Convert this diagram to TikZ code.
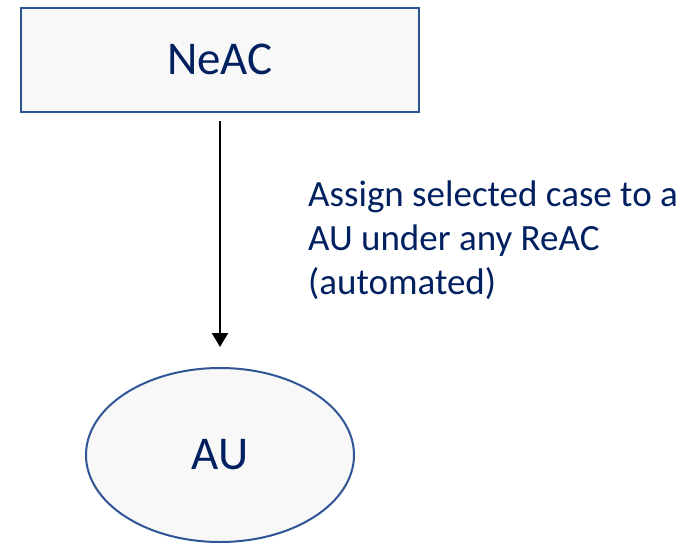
\documentclass[tikz,border=0pt]{standalone}
\usepackage{fontspec}
\setmainfont{Carlito}
\usetikzlibrary{shapes.geometric,arrows.meta}
\definecolor{navy}{HTML}{002060}
\definecolor{edge}{HTML}{2F5597}
\definecolor{fillg}{HTML}{F8F8F8}
\tikzset{
  shapebox/.style={draw=edge, line width=2pt, fill=fillg, text=navy},
  bigtext/.style={font=\fontsize{47}{50}\selectfont},
  lbl/.style={text=navy, font=\fontsize{37}{44}\selectfont, align=left, anchor=base west, inner sep=0pt},
  conn/.style={draw=black, line width=2.2pt, -{Triangle[length=14pt,width=16pt]}}
}
\begin{document}
\begin{tikzpicture}[x=1pt,y=-1pt]
\useasboundingbox (0,0) rectangle (689,544);
\node[shapebox, bigtext, rectangle, minimum width=398pt, minimum height=104pt, inner sep=0pt] (neac) at (220,59.5) {NeAC};
\node[shapebox, bigtext, ellipse, minimum width=268pt, minimum height=174pt, inner sep=0pt] (au) at (220,455) {AU};
\coordinate (tip) at (220,347);
\draw[conn] (neac.south |- 0,121) -- (tip);
\node[lbl] (label) at (308,294) {Assign selected case to a\\AU under any ReAC\\(automated)};
\end{tikzpicture}
\end{document}
